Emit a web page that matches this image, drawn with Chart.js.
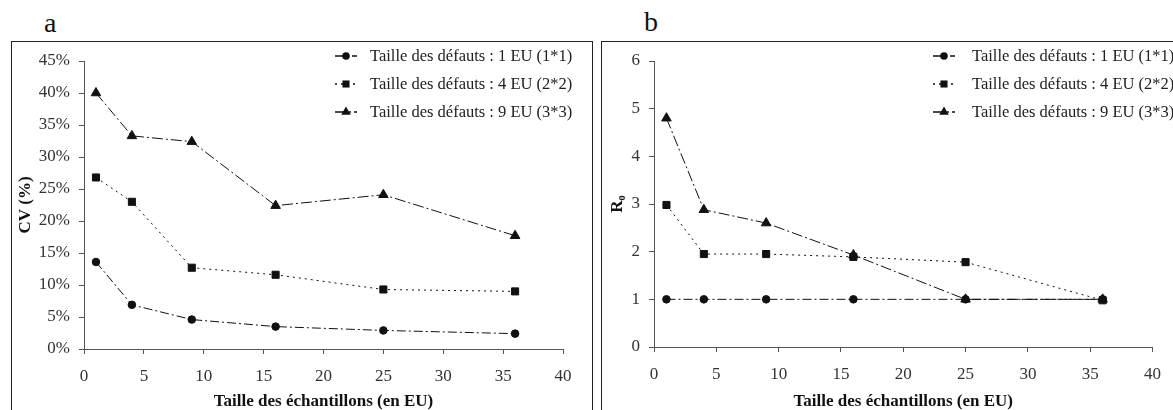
<!DOCTYPE html>
<html>
<head>
<meta charset="utf-8">
<script src="https://cdn.jsdelivr.net/npm/chart.js@4.4.0/dist/chart.umd.min.js"></script>
<style>
  html, body { margin:0; padding:0; background:#fff; overflow:hidden; width:1173px; height:410px; }
  .frame { position:absolute; border:1.5px solid #222; box-sizing:border-box; pointer-events:none; }
  .lab { position:absolute; font-family:"Liberation Serif", serif; font-size:28px; line-height:28px; color:#111; }
  canvas { position:absolute; }
</style>
</head>
<body>
<div class="lab" style="left:44px; top:9px;">a</div>
<div class="lab" style="left:644px; top:8px;">b</div>
<canvas id="cA" width="581" height="369" style="left:11px; top:41px;"></canvas>
<canvas id="cB" width="571" height="369" style="left:602px; top:41px;"></canvas>
<div class="frame" style="left:11px; top:41px; width:582px; height:400px;"></div>
<div class="frame" style="left:601px; top:41px; width:600px; height:400px;"></div>
<script>
// ---- data ----
const sampleSizes = [1, 4, 9, 16, 25, 36];
const cvDefect1 = [13.6, 6.9, 4.6, 3.5, 2.9, 2.4];
const cvDefect4 = [26.8, 23.0, 12.7, 11.6, 9.3, 9.0];
const cvDefect9 = [40.0, 33.3, 32.4, 22.4, 24.1, 17.7];
const r0Defect1 = [1, 1, 1, 1, 1, 1];
const r0Defect4 = [2.98, 1.95, 1.95, 1.89, 1.78, 0.98];
const r0Defect9 = [4.8, 2.88, 2.6, 1.93, 1.0, 1.0];
const seriesLabels = [
  'Taille des défauts : 1 EU (1*1)',
  'Taille des défauts : 4 EU (2*2)',
  'Taille des défauts : 9 EU (3*3)'
];
const xAxisTitle = 'Taille des échantillons (en EU)';
const cvAxisTitle = 'CV (%)';
const r0AxisTitle = 'R₀';

// ---- styles ----
const SERIF = '"Liberation Serif", "Times New Roman", serif';
const styles = [
  { pointStyle: 'circle',   radius: 3.8, dash: [9, 3, 2, 3] },
  { pointStyle: 'rect',     radius: 5,   dash: [2, 4] },
  { pointStyle: 'triangle', radius: 5.5, dash: [11, 3, 2, 3] }
];

function pts(vals) { return sampleSizes.map((x, i) => ({ x: x, y: vals[i] })); }

function makeDatasets(arrs) {
  return arrs.map((vals, i) => ({
    label: seriesLabels[i],
    data: pts(vals),
    order: i,
    borderColor: '#111',
    backgroundColor: '#111',
    borderWidth: 1,
    borderDash: styles[i].dash,
    pointStyle: styles[i].pointStyle,
    pointRadius: styles[i].radius,
    pointBackgroundColor: '#111',
    pointBorderColor: '#111',
    pointBorderWidth: 1,
    fill: false,
    tension: 0
  }));
}

function drawMarker(ctx, style, x, y, r) {
  ctx.beginPath();
  if (style === 'circle') {
    ctx.arc(x, y, r, 0, Math.PI * 2);
  } else if (style === 'rect') {
    const s = r * Math.SQRT1_2;
    ctx.rect(x - s, y - s, 2 * s, 2 * s);
  } else {
    ctx.moveTo(x, y - r);
    ctx.lineTo(x + r * 0.866, y + r * 0.5);
    ctx.lineTo(x - r * 0.866, y + r * 0.5);
    ctx.closePath();
  }
  ctx.fill();
}

const legendPlugin = {
  id: 'customLegend',
  afterDraw(chart, args, opts) {
    const ctx = chart.ctx;
    ctx.save();
    chart.data.datasets.forEach((ds, i) => {
      const y = opts.rows[i];
      ctx.strokeStyle = '#111';
      ctx.fillStyle = '#111';
      ctx.lineWidth = 1.6;
      ctx.setLineDash(ds.borderDash);
      ctx.beginPath();
      ctx.moveTo(opts.x0, y);
      ctx.lineTo(opts.x1, y);
      ctx.stroke();
      ctx.setLineDash([]);
      drawMarker(ctx, ds.pointStyle, opts.mx, y, ds.pointRadius);
      ctx.font = '16.5px ' + SERIF;
      ctx.fillStyle = '#222';
      ctx.textBaseline = 'middle';
      ctx.textAlign = 'left';
      ctx.fillText(ds.label, opts.tx, y + 1);
    });
    ctx.restore();
  }
};

function makeChart(id, arrs, cfg) {
  new Chart(document.getElementById(id), {
    type: 'line',
    data: { datasets: makeDatasets(arrs) },
    plugins: [legendPlugin],
    options: {
      responsive: false,
      animation: false,
      devicePixelRatio: 1,
      layout: { padding: { top: cfg.padTop, right: cfg.padRight, left: 0, bottom: 0 } },
      plugins: {
        legend: { display: false },
        tooltip: { enabled: false },
        customLegend: cfg.legend
      },
      scales: {
        x: {
          type: 'linear', min: 0, max: 40,
          ticks: { stepSize: 5, font: { family: SERIF, size: 17 }, color: '#333', padding: 12, maxRotation: 0 },
          grid: { display: true, drawOnChartArea: false, drawTicks: true, tickLength: 5, color: '#555', lineWidth: 1 },
          border: { display: true, color: '#555', width: 1 },
          title: { display: true, text: xAxisTitle, font: { family: SERIF, size: 17, weight: 'bold', lineHeight: 1.0 }, color: '#111', padding: { top: 0, bottom: 0 } },
          afterFit: s => { s.height = cfg.xHeight; }
        },
        y: {
          type: 'linear', min: 0, max: cfg.yMax,
          ticks: { stepSize: cfg.yStep, font: { family: SERIF, size: 17 }, color: '#333', padding: 9, callback: cfg.tickFmt },
          grid: { display: true, drawOnChartArea: false, drawTicks: true, tickLength: 5, color: '#555', lineWidth: 1 },
          border: { display: true, color: '#555', width: 1 },
          title: { display: true, text: cfg.yTitle, font: { family: SERIF, size: 17, weight: 'bold', lineHeight: 1.0 }, color: '#111', padding: { top: cfg.yTitlePad, bottom: 0 } },
          afterFit: s => { s.width = cfg.yWidth; }
        }
      }
    }
  });
}

makeChart('cA', [cvDefect1, cvDefect4, cvDefect9], {
  padTop: 20, padRight: 29, xHeight: 61, yWidth: 73, yMax: 45, yStep: 5,
  tickFmt: v => v + '%', yTitle: cvAxisTitle, yTitlePad: 6,
  legend: { x0: 324, x1: 346, mx: 335, tx: 359, rows: [15, 43, 71] }
});
makeChart('cB', [r0Defect1, r0Defect4, r0Defect9], {
  padTop: 20, padRight: 19, xHeight: 63, yWidth: 52, yMax: 6, yStep: 1,
  tickFmt: v => v, yTitle: r0AxisTitle, yTitlePad: 7,
  legend: { x0: 331, x1: 353, mx: 342, tx: 370, rows: [15, 43, 71] }
});
</script>
</body>
</html>
